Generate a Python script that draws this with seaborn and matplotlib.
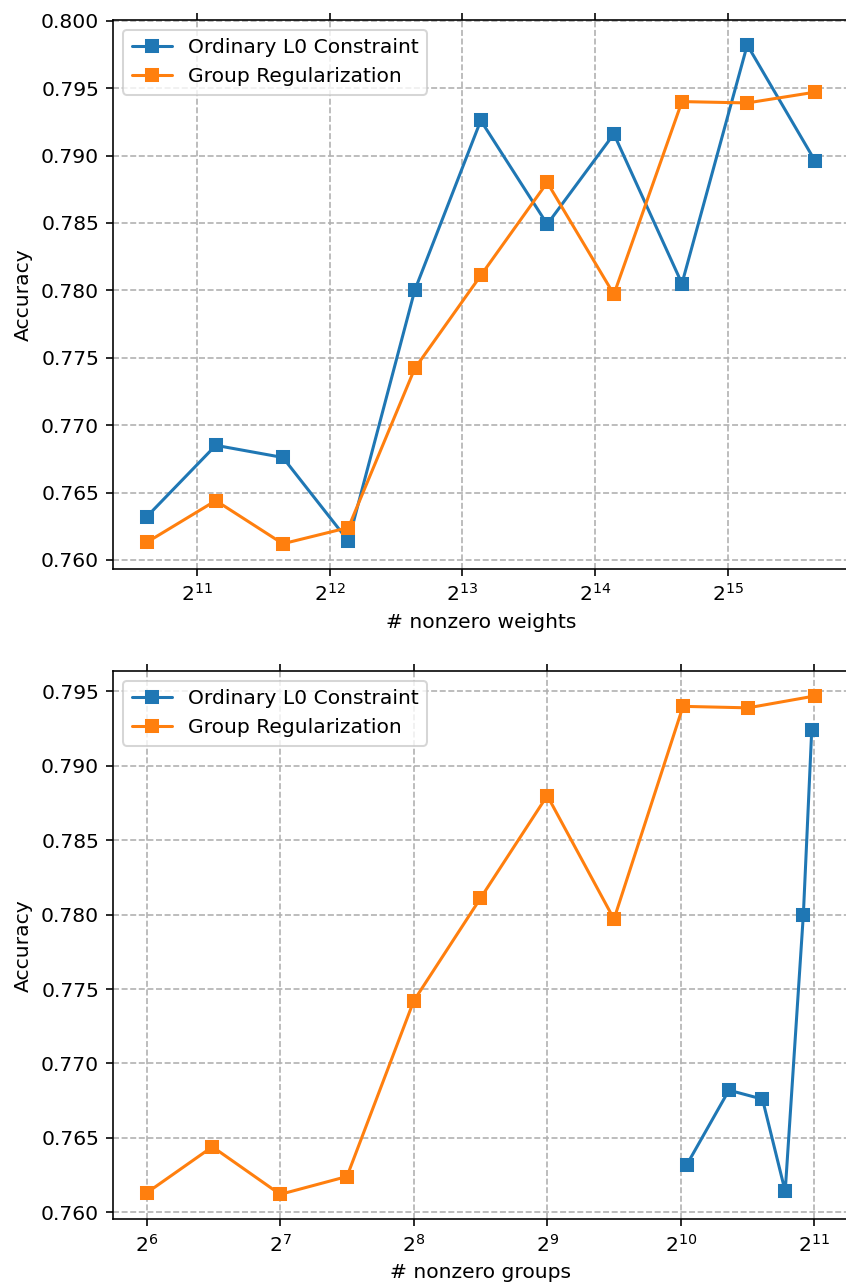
import numpy as np
import pandas as pd
import matplotlib
matplotlib.use('Agg')
import matplotlib.pyplot as plt
import seaborn as sns

# values
weights_x = [1577, 2262, 3210, 4520, 6390, 9020, 12760, 18070, 25780, 36250, 51640]
l0_acc = [0.7632, 0.7685, 0.7676, 0.7614, 0.7800, 0.7926, 0.7849, 0.7916, 0.7805, 0.7982, 0.7896]
group_acc = [0.7613, 0.7644, 0.7612, 0.7624, 0.7742, 0.7811, 0.7880, 0.7797, 0.7940, 0.7939, 0.7947]

groups_x_group = [64, 90, 128, 181, 256, 362, 512, 724, 1036, 1452, 2056]
groups_x_l0 = [1057, 1315, 1565, 1761, 1935, 2021]
l0_acc_groups = [0.7632, 0.7682, 0.7676, 0.7614, 0.7800, 0.7924]

labels = ['Ordinary L0 Constraint', 'Group Regularization']
colors = ['#1f77b4', '#ff7f0e']

sns.set_style('white')
plt.rcParams['font.family'] = ['DejaVu Sans']
plt.rcParams['font.size'] = 10
plt.rcParams['text.color'] = 'black'
plt.rcParams['axes.labelcolor'] = 'black'
plt.rcParams['xtick.color'] = 'black'
plt.rcParams['ytick.color'] = 'black'
plt.rcParams['axes.edgecolor'] = 'black'
plt.rcParams['axes.linewidth'] = 0.8

dpi = 146
fig, axes = plt.subplots(2, 1, figsize=(846 / dpi, 1284 / dpi), dpi=dpi)
axes[0].set_position([0.1339, 0.5571, 0.869, 0.4273])
axes[1].set_position([0.1339, 0.0504, 0.869, 0.4270])

panels = [
    (axes[0], [(weights_x, l0_acc), (weights_x, group_acc)], '# nonzero weights'),
    (axes[1], [(groups_x_l0, l0_acc_groups), (groups_x_group, group_acc)], '# nonzero groups'),
]

for ax, series, xlabel in panels:
    for (xs, ys), lab, col in zip(series, labels, colors):
        sns.lineplot(x=xs, y=ys, ax=ax, marker='s', markersize=6, color=col,
                     markeredgecolor=col, markeredgewidth=1, linewidth=1.5, label=lab)
    ax.set_xscale('log', base=2)
    ax.grid(True, linestyle='--', color='#b0b0b0', linewidth=0.8)
    ax.tick_params(axis='both', direction='out', length=3.5, width=0.8,
                   bottom=True, left=True, top=True, right=True,
                   colors='black', labelsize=10)
    ax.set_xlabel(xlabel, fontsize=10)
    ax.set_ylabel('Accuracy', fontsize=10)
    ax.legend(loc='upper left', fontsize=10, frameon=True, fancybox=True,
              edgecolor='#cccccc', framealpha=0.8)
    for sp in ax.spines.values():
        sp.set_visible(True)
        sp.set_color('black')

fig.savefig('out.png', dpi=dpi)
